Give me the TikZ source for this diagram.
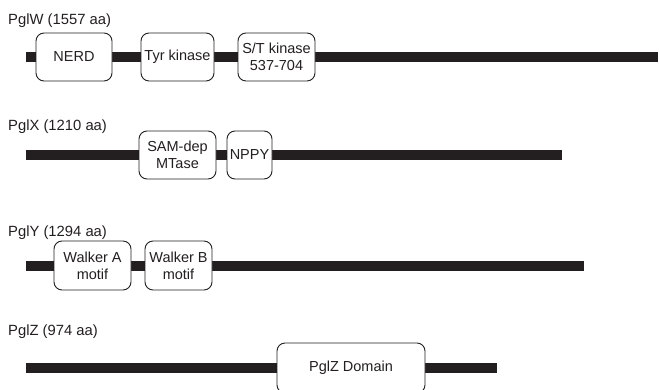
\documentclass[tikz,border=0pt]{standalone}
\usepackage{fontspec}
\setmainfont{Liberation Sans}
\definecolor{ink}{HTML}{231F20}
\begin{document}
\begin{tikzpicture}[x=1pt,y=-1pt,
  bar/.style={line width=10pt,draw=ink,line cap=butt},
  dom/.style={draw=ink,line width=0.9pt,fill=white,rounded corners=8pt,inner sep=0pt,
    align=center,font=\fontsize{14.5}{17}\selectfont,text=ink},
  title/.style={anchor=base west,inner sep=0pt,font=\fontsize{14.8}{17}\selectfont,text=ink}]
\useasboundingbox (0,0) rectangle (659,389);
\clip (0,0) rectangle (659,389);
% PglW
\node[title] (tw) at (8,24) {PglW (1557 aa)};
\coordinate (w0) at (26,57);
\coordinate (w1) at (658,57);
\draw[bar] (w0) -- (w1);
\node[dom,minimum width=76pt,minimum height=48pt] (nerd) at (74,57) {NERD};
\node[dom,minimum width=73pt,minimum height=48pt] (tyr) at (177.5,57) {Tyr kinase};
\node[dom,minimum width=77pt,minimum height=48pt] (st) at (276.5,57) {S/T kinase\\537-704};
% PglX
\node[title] (tx) at (8,130.5) {PglX (1210 aa)};
\coordinate (x0) at (26,155.3);
\coordinate (x1) at (562,155.3);
\draw[bar] (x0) -- (x1);
\node[dom,minimum width=77pt,minimum height=48pt] (sam) at (177.5,155) {SAM-dep\\MTase};
\node[dom,minimum width=45pt,minimum height=48pt] (nppy) at (249.5,155) {NPPY};
% PglY
\node[title] (ty) at (8,236) {PglY (1294 aa)};
\coordinate (y0) at (26,265.7);
\coordinate (y1) at (584,265.7);
\draw[bar] (y0) -- (y1);
\node[dom,minimum width=77pt,minimum height=49pt] (wa) at (92.5,265.5) {Walker A\\motif};
\node[dom,minimum width=67pt,minimum height=49pt] (wb) at (178.5,265.5) {Walker B\\motif};
% PglZ
\node[title] (tz) at (8,335) {PglZ (974 aa)};
\coordinate (z0) at (26,368);
\coordinate (z1) at (497,368);
\draw[bar] (z0) -- (z1);
\node[dom,minimum width=148pt,minimum height=50pt] (pz) at (351,368) {PglZ Domain};
\end{tikzpicture}
\end{document}
